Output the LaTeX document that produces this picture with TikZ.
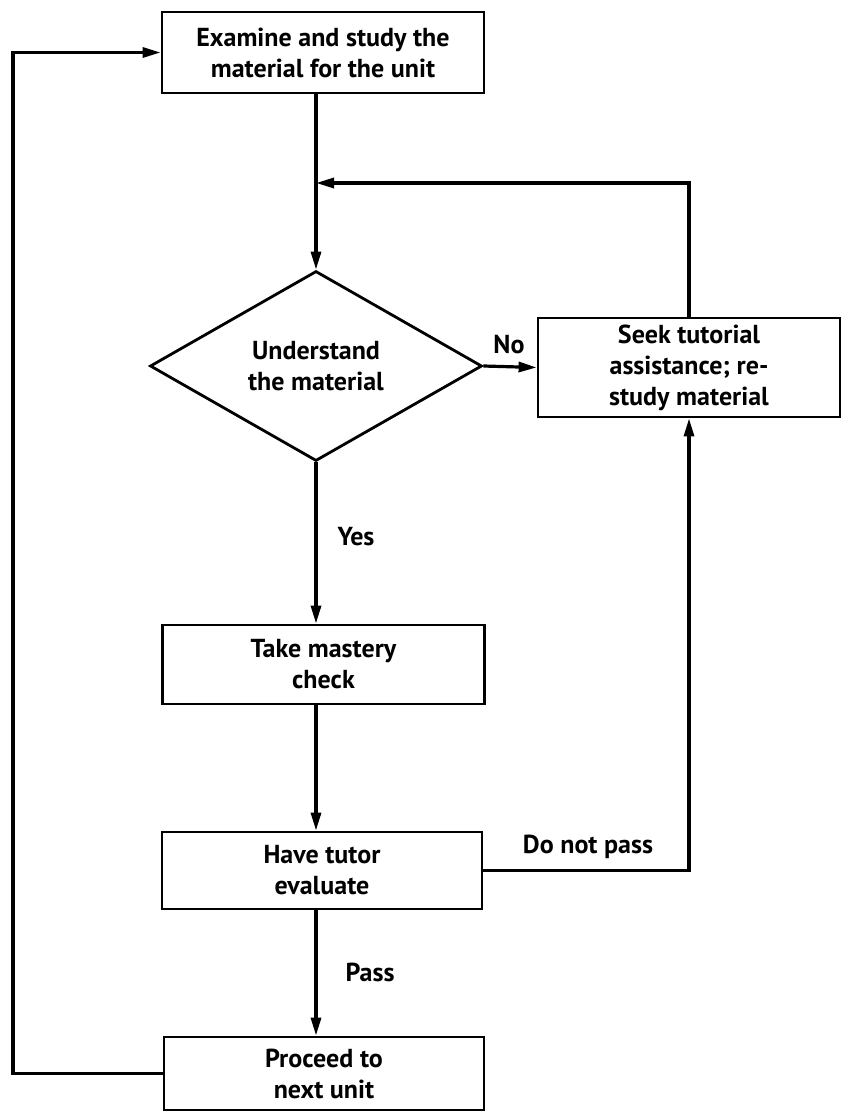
\documentclass[tikz,border=0pt]{standalone}
\usepackage{fontspec}
\setmainfont{PT Sans}
\usetikzlibrary{shapes.geometric,arrows.meta}
\begin{document}
\begin{tikzpicture}[x=1pt,y=1pt,
  txt/.style={font=\fontsize{26}{31}\selectfont\bfseries, align=center},
  box/.style={txt, draw, line width=2.8pt, inner sep=0pt},
  conn/.style={line width=3.2pt},
  arr/.style={conn, -{Stealth[length=18pt,width=10pt,inset=0pt]}},
  lbl/.style={txt, inner sep=0pt}]
\fill[white] (0,0) rectangle (842,-1113);
\path[use as bounding box] (0,0) rectangle (842,-1113);

\node[box, minimum width=322pt, minimum height=81pt] (study) at (323,-52.5) {Examine and study the\\material for the unit};
\node[txt, draw, line width=2.8pt, diamond, inner sep=0pt, minimum width=332pt, minimum height=190pt] (understand) at (316,-366) {Understand\\the material};
\node[box, minimum width=302pt, minimum height=99pt] (seek) at (689,-367.5) {Seek tutorial\\assistance; re-\\study material};
\node[box, minimum width=322pt, minimum height=79pt] (mastery) at (323.5,-664.5) {Take mastery\\check};
\node[box, minimum width=320pt, minimum height=77pt] (tutor) at (322,-870.5) {Have tutor\\evaluate};
\node[box, minimum width=320pt, minimum height=73pt] (proceed) at (324,-1073.5) {Proceed to\\next unit};

\node[lbl] (no) at (509,-345) {No};
\node[lbl] (yes) at (356,-537) {Yes};
\node[lbl] (dnp) at (588,-847) {Do not pass};
\node[lbl] (pass) at (370,-972) {Pass};

\coordinate (join) at (316,-183);
\coordinate (loopc) at (13,-600);

\draw[arr] (study.south -| understand.north) -- (understand.north);
\draw[arr] (seek.north) |- (join);
\draw[arr] (understand.east) -- (seek.west);
\draw[arr] (understand.south) -- (mastery.north -| understand.south);
\draw[arr] (mastery.south -| understand.south) -- (tutor.north -| understand.south);
\draw[arr] (tutor.east) -| (seek.south);
\draw[arr] (tutor.south -| understand.south) -- (proceed.north -| understand.south);
\draw[arr] (proceed.west) -| (loopc) |- (study.west);
\end{tikzpicture}
\end{document}
